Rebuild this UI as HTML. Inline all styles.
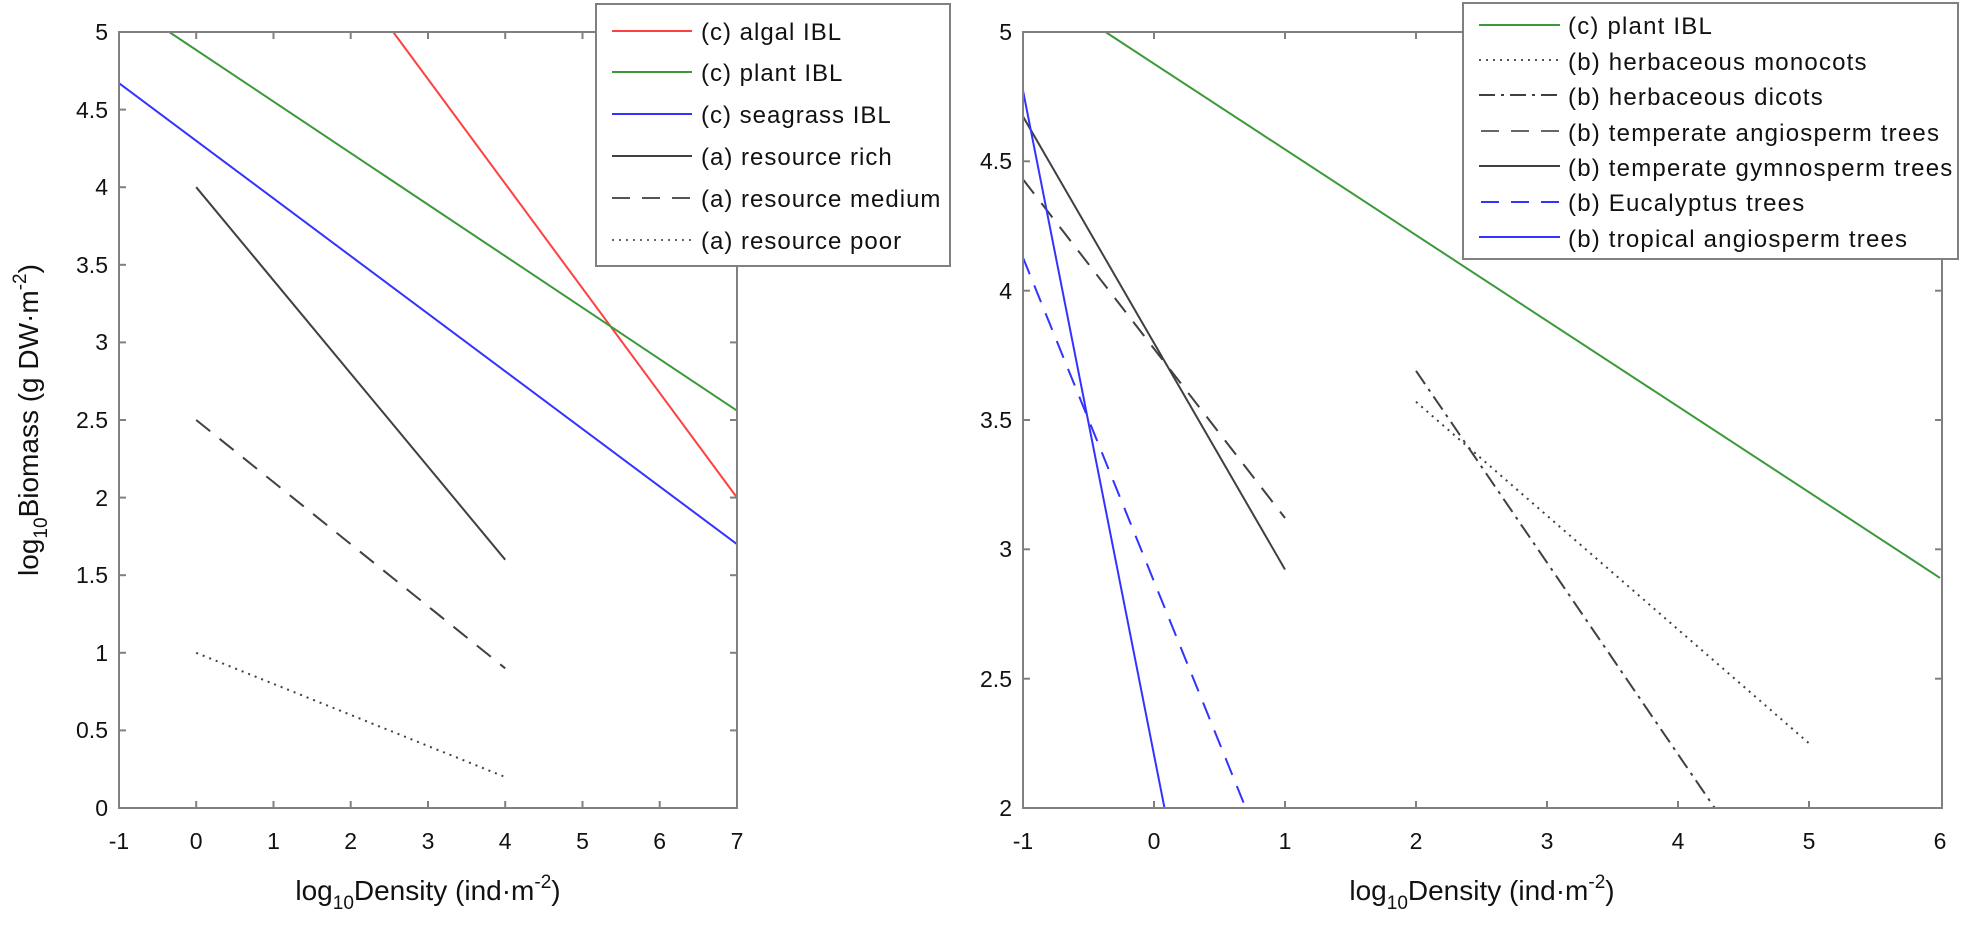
<!DOCTYPE html>
<html><head><meta charset="utf-8"><style>
html,body{margin:0;padding:0;background:#fff;}
svg{display:block;font-family:"Liberation Sans",Arial,sans-serif;}
</style></head><body>
<svg width="1961" height="926" viewBox="0 0 1961 926" xmlns="http://www.w3.org/2000/svg">
<rect width="1961" height="926" fill="#fff"/>
<g stroke-width="2" fill="none">
<line x1="393.2" y1="32" x2="737" y2="497.6" stroke="#ff4040"/>
<line x1="169.2" y1="32" x2="737" y2="410.7" stroke="#3a9a3a"/>
<line x1="119" y1="83.2" x2="737" y2="544.2" stroke="#3333ff"/>
<line x1="196.2" y1="187.2" x2="505.2" y2="559.7" stroke="#404040"/>
<line x1="196.2" y1="420" x2="505.2" y2="668.3" stroke="#404040" stroke-dasharray="18,12"/>
<line x1="196.2" y1="652.8" x2="505.2" y2="777" stroke="#404040" stroke-dasharray="2,5"/>
</g>
<rect x="119" y="32" width="618" height="776" fill="none" stroke="#808080" stroke-width="2"/>
<g stroke="#808080" stroke-width="2">
<line x1="196.2" y1="808" x2="196.2" y2="801"/><line x1="273.5" y1="808" x2="273.5" y2="801"/><line x1="350.7" y1="808" x2="350.7" y2="801"/><line x1="428" y1="808" x2="428" y2="801"/><line x1="505.2" y1="808" x2="505.2" y2="801"/><line x1="582.5" y1="808" x2="582.5" y2="801"/><line x1="659.7" y1="808" x2="659.7" y2="801"/>
<line x1="196.2" y1="32" x2="196.2" y2="39"/><line x1="273.5" y1="32" x2="273.5" y2="39"/><line x1="350.7" y1="32" x2="350.7" y2="39"/><line x1="428" y1="32" x2="428" y2="39"/><line x1="505.2" y1="32" x2="505.2" y2="39"/><line x1="582.5" y1="32" x2="582.5" y2="39"/><line x1="659.7" y1="32" x2="659.7" y2="39"/>
<line x1="119" y1="730.4" x2="126" y2="730.4"/><line x1="119" y1="652.8" x2="126" y2="652.8"/><line x1="119" y1="575.2" x2="126" y2="575.2"/><line x1="119" y1="497.6" x2="126" y2="497.6"/><line x1="119" y1="420" x2="126" y2="420"/><line x1="119" y1="342.4" x2="126" y2="342.4"/><line x1="119" y1="264.8" x2="126" y2="264.8"/><line x1="119" y1="187.2" x2="126" y2="187.2"/><line x1="119" y1="109.6" x2="126" y2="109.6"/>
<line x1="737" y1="730.4" x2="730" y2="730.4"/><line x1="737" y1="652.8" x2="730" y2="652.8"/><line x1="737" y1="575.2" x2="730" y2="575.2"/><line x1="737" y1="497.6" x2="730" y2="497.6"/><line x1="737" y1="420" x2="730" y2="420"/><line x1="737" y1="342.4" x2="730" y2="342.4"/><line x1="737" y1="264.8" x2="730" y2="264.8"/><line x1="737" y1="187.2" x2="730" y2="187.2"/><line x1="737" y1="109.6" x2="730" y2="109.6"/>
</g>
<g font-size="23" fill="#111" text-anchor="middle">
<text x="119" y="849">-1</text><text x="196.2" y="849">0</text><text x="273.5" y="849">1</text><text x="350.7" y="849">2</text><text x="428" y="849">3</text><text x="505.2" y="849">4</text><text x="582.5" y="849">5</text><text x="659.7" y="849">6</text><text x="737" y="849">7</text>
</g>
<g font-size="23" fill="#111" text-anchor="end">
<text x="108" y="816">0</text><text x="108" y="738">0.5</text><text x="108" y="661">1</text><text x="108" y="583">1.5</text><text x="108" y="506">2</text><text x="108" y="428">2.5</text><text x="108" y="350">3</text><text x="108" y="273">3.5</text><text x="108" y="195">4</text><text x="108" y="118">4.5</text><text x="108" y="40">5</text>
</g>
<text x="428" y="900" font-size="28" fill="#111" text-anchor="middle">log<tspan font-size="19" dy="9">10</tspan><tspan dy="-9">Density (ind·m</tspan><tspan font-size="19" dy="-12">-2</tspan><tspan dy="12">)</tspan></text>
<text transform="translate(38,420) rotate(-90)" font-size="28" fill="#111" text-anchor="middle">log<tspan font-size="19" dy="9">10</tspan><tspan dy="-9">Biomass (g DW·m</tspan><tspan font-size="19" dy="-12">-2</tspan><tspan dy="12">)</tspan></text>
<rect x="596" y="4" width="354" height="262" fill="#fff" stroke="#808080" stroke-width="2"/>
<g stroke-width="2">
<line x1="612" y1="31" x2="692" y2="31" stroke="#ff4040"/>
<line x1="612" y1="72" x2="692" y2="72" stroke="#3a9a3a"/>
<line x1="612" y1="114" x2="692" y2="114" stroke="#3333ff"/>
<line x1="612" y1="156" x2="692" y2="156" stroke="#404040"/>
<line x1="612" y1="198" x2="692" y2="198" stroke="#555" stroke-dasharray="18,12"/>
<line x1="612" y1="240" x2="692" y2="240" stroke="#666" stroke-dasharray="2,5"/>
</g>
<g font-size="24" fill="#111" letter-spacing="1">
<text x="701" y="40">(c) algal IBL</text>
<text x="701" y="81">(c) plant IBL</text>
<text x="701" y="123">(c) seagrass IBL</text>
<text x="701" y="165">(a) resource rich</text>
<text x="701" y="207">(a) resource medium</text>
<text x="701" y="249">(a) resource poor</text>
</g>
<g stroke-width="2" fill="none">
<line x1="1105.5" y1="32" x2="1940" y2="577.9" stroke="#3a9a3a"/>
<line x1="1416" y1="401.8" x2="1809" y2="743.3" stroke="#404040" stroke-dasharray="2,5"/>
<line x1="1416" y1="370.8" x2="1714.7" y2="808" stroke="#404040" stroke-dasharray="16,6,3,6"/>
<line x1="1023" y1="179.4" x2="1285" y2="518" stroke="#404040" stroke-dasharray="18,12"/>
<line x1="1023" y1="116.5" x2="1285" y2="569.5" stroke="#404040"/>
<line x1="1023" y1="257.6" x2="1245.7" y2="808" stroke="#3333ff" stroke-dasharray="18,12"/>
<line x1="1023" y1="90.6" x2="1164.5" y2="808" stroke="#3333ff"/>
</g>
<rect x="1023" y="32" width="919" height="776" fill="none" stroke="#808080" stroke-width="2"/>
<g stroke="#808080" stroke-width="2">
<line x1="1154" y1="808" x2="1154" y2="801"/><line x1="1285" y1="808" x2="1285" y2="801"/><line x1="1416" y1="808" x2="1416" y2="801"/><line x1="1547" y1="808" x2="1547" y2="801"/><line x1="1678" y1="808" x2="1678" y2="801"/><line x1="1809" y1="808" x2="1809" y2="801"/>
<line x1="1154" y1="32" x2="1154" y2="39"/><line x1="1285" y1="32" x2="1285" y2="39"/><line x1="1416" y1="32" x2="1416" y2="39"/><line x1="1547" y1="32" x2="1547" y2="39"/><line x1="1678" y1="32" x2="1678" y2="39"/><line x1="1809" y1="32" x2="1809" y2="39"/>
<line x1="1023" y1="678.7" x2="1030" y2="678.7"/><line x1="1023" y1="549.3" x2="1030" y2="549.3"/><line x1="1023" y1="420" x2="1030" y2="420"/><line x1="1023" y1="290.7" x2="1030" y2="290.7"/><line x1="1023" y1="161.3" x2="1030" y2="161.3"/>
<line x1="1942" y1="678.7" x2="1935" y2="678.7"/><line x1="1942" y1="549.3" x2="1935" y2="549.3"/><line x1="1942" y1="420" x2="1935" y2="420"/><line x1="1942" y1="290.7" x2="1935" y2="290.7"/><line x1="1942" y1="161.3" x2="1935" y2="161.3"/>
</g>
<g font-size="23" fill="#111" text-anchor="middle">
<text x="1023" y="849">-1</text><text x="1154" y="849">0</text><text x="1285" y="849">1</text><text x="1416" y="849">2</text><text x="1547" y="849">3</text><text x="1678" y="849">4</text><text x="1809" y="849">5</text><text x="1940" y="849">6</text>
</g>
<g font-size="23" fill="#111" text-anchor="end">
<text x="1012" y="816">2</text><text x="1012" y="687">2.5</text><text x="1012" y="557">3</text><text x="1012" y="428">3.5</text><text x="1012" y="299">4</text><text x="1012" y="169">4.5</text><text x="1012" y="40">5</text>
</g>
<text x="1482" y="900" font-size="28" fill="#111" text-anchor="middle">log<tspan font-size="19" dy="9">10</tspan><tspan dy="-9">Density (ind·m</tspan><tspan font-size="19" dy="-12">-2</tspan><tspan dy="12">)</tspan></text>
<rect x="1463" y="3" width="495" height="256" fill="#fff" stroke="#808080" stroke-width="2"/>
<g stroke-width="2">
<line x1="1479" y1="25" x2="1560" y2="25" stroke="#3a9a3a"/>
<line x1="1479" y1="60" x2="1560" y2="60" stroke="#555" stroke-dasharray="2,5"/>
<line x1="1479" y1="95" x2="1560" y2="95" stroke="#404040" stroke-dasharray="16,6,3,6"/>
<line x1="1481" y1="131" x2="1560" y2="131" stroke="#666" stroke-dasharray="18,12"/>
<line x1="1479" y1="166" x2="1560" y2="166" stroke="#404040"/>
<line x1="1481" y1="202" x2="1560" y2="202" stroke="#3333ff" stroke-dasharray="18,12"/>
<line x1="1479" y1="237" x2="1560" y2="237" stroke="#3333ff"/>
</g>
<g font-size="24" fill="#111" letter-spacing="1.2">
<text x="1568" y="34">(c) plant IBL</text>
<text x="1568" y="70">(b) herbaceous monocots</text>
<text x="1568" y="105">(b) herbaceous dicots</text>
<text x="1568" y="141">(b) temperate angiosperm trees</text>
<text x="1568" y="176">(b) temperate gymnosperm trees</text>
<text x="1568" y="211">(b) Eucalyptus trees</text>
<text x="1568" y="247">(b) tropical angiosperm trees</text>
</g>
</svg>
</body></html>
